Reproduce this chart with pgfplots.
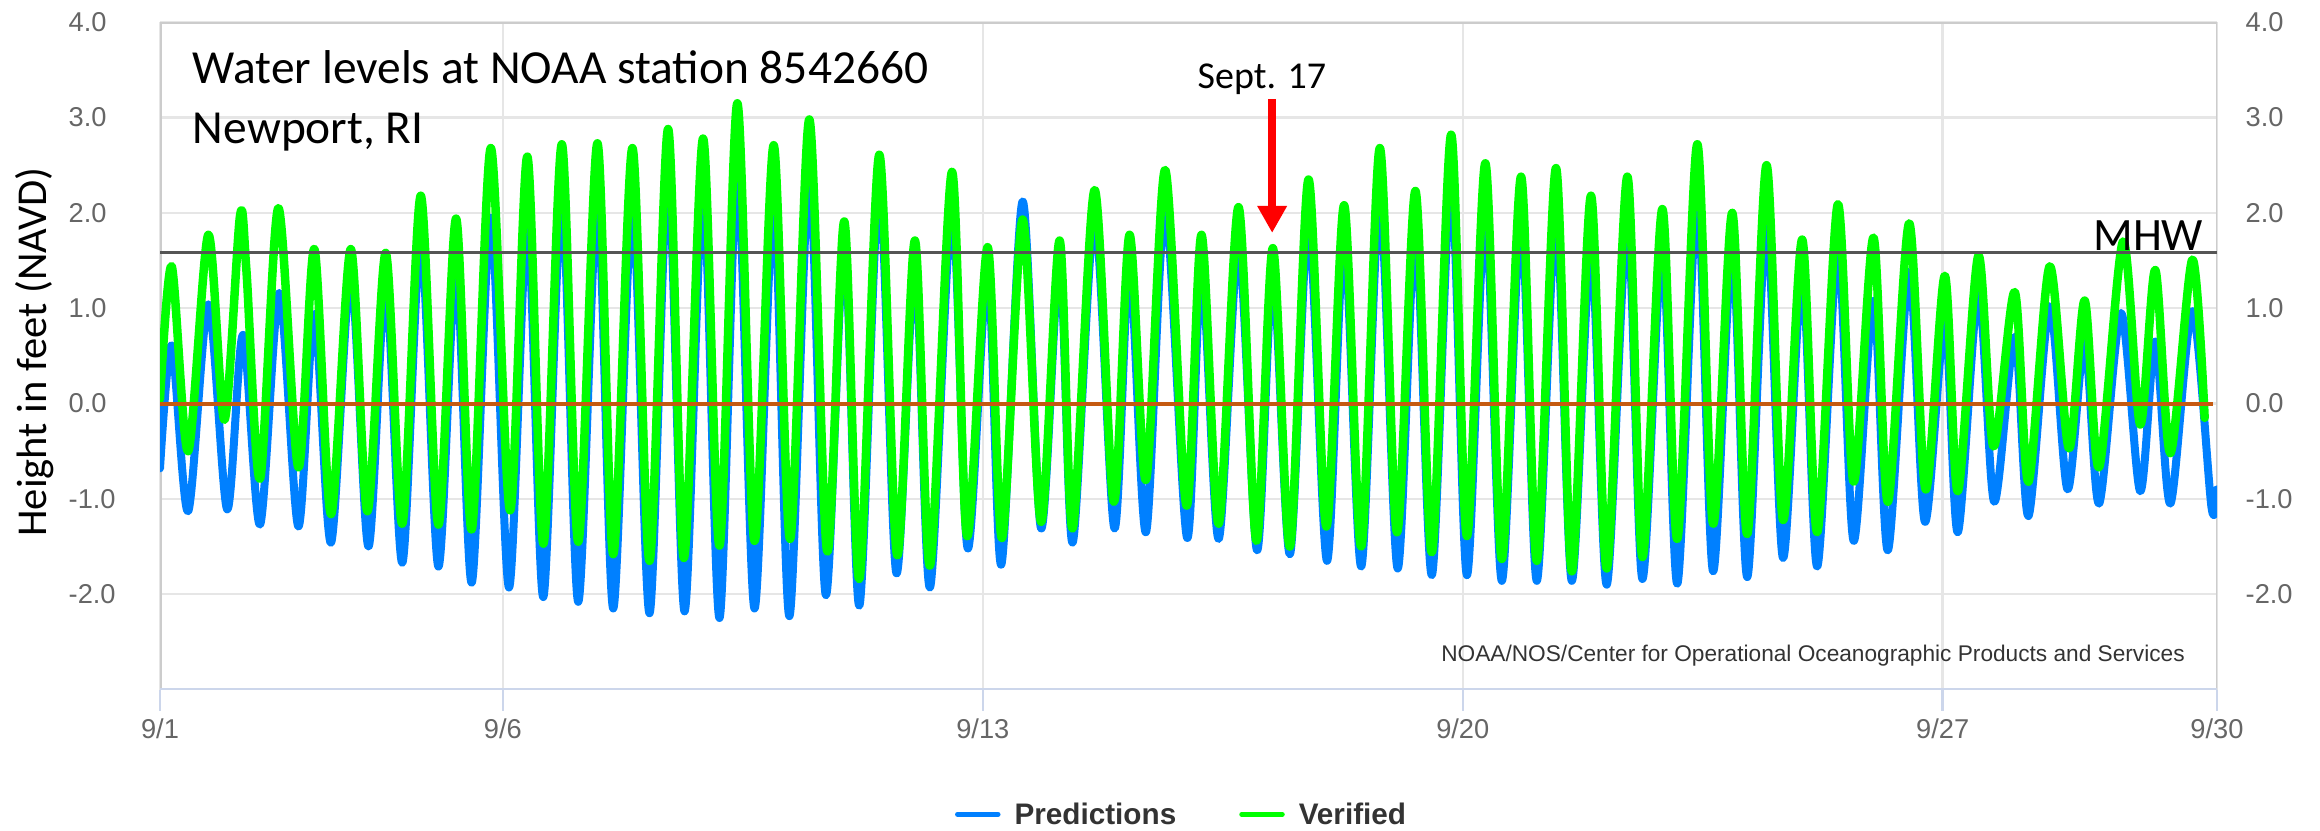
\documentclass[border=0pt]{standalone}
\usepackage{fontspec}
\setmainfont{Carlito}
\newfontfamily\arialf{Liberation Sans}
\usepackage{pgfplots}
\pgfplotsset{compat=1.18}
\usetikzlibrary{arrows.meta}
\definecolor{predblue}{RGB}{0,128,255}
\definecolor{verigreen}{RGB}{0,255,0}
\definecolor{zeroline}{RGB}{197,90,17}
\definecolor{mhwgray}{RGB}{85,85,85}
\definecolor{gridgray}{RGB}{230,230,230}
\definecolor{framegray}{RGB}{204,204,204}
\definecolor{xaxiscol}{RGB}{204,214,235}
\definecolor{ticktext}{RGB}{102,102,102}
\definecolor{darktext}{RGB}{51,51,51}

\pgfplotstableread{
day val
0.00 -0.68
0.17 0.61
0.41 -1.13
0.705 1.04
0.98 -1.11
1.21 0.72
1.459 -1.27
1.74 1.16
2.018 -1.29
2.251 0.94
2.494 -1.46
2.782 1.35
3.04 -1.50
3.292 1.25
3.535 -1.67
3.803 1.72
4.06 -1.71
4.318 1.42
4.547 -1.88
4.824 1.95
5.09 -1.93
5.358 1.88
5.59 -2.03
5.86 2.15
6.10 -2.08
6.38 2.11
6.61 -2.15
6.89 2.08
7.14 -2.20
7.41 2.40
7.65 -2.18
7.92 2.22
8.16 -2.25
8.42 2.45
8.67 -2.15
8.95 2.11
9.18 -2.23
9.47 2.41
9.71 -2.01
9.98 1.70
10.20 -2.12
10.49 2.30
10.74 -1.78
11.01 1.45
11.23 -1.93
11.55 2.05
11.78 -1.52
12.07 1.40
12.27 -1.69
12.58 2.12
12.85 -1.31
13.12 1.50
13.31 -1.46
13.63 1.95
13.92 -1.31
14.14 1.45
14.38 -1.35
14.66 2.05
14.98 -1.41
15.19 1.40
15.44 -1.42
15.73 1.65
16.00 -1.54
16.23 1.35
16.48 -1.58
16.75 1.90
17.02 -1.65
17.27 1.72
17.52 -1.71
17.79 2.15
18.05 -1.73
18.31 1.80
18.55 -1.80
18.83 2.35
19.06 -1.80
19.33 2.00
19.57 -1.86
19.85 1.94
20.08 -1.86
20.36 1.97
20.59 -1.86
20.87 1.65
21.10 -1.90
21.40 1.90
21.62 -1.84
21.91 1.62
22.13 -1.89
22.42 2.15
22.65 -1.76
22.93 1.62
23.15 -1.82
23.43 1.89
23.67 -1.62
23.95 1.35
24.17 -1.71
24.47 1.62
24.70 -1.44
24.99 1.08
25.20 -1.54
25.51 1.38
25.74 -1.24
26.03 0.85
26.22 -1.35
26.52 1.17
26.75 -1.03
27.05 0.70
27.25 -1.18
27.56 1.02
27.82 -0.90
28.07 0.65
28.28 -1.05
28.60 0.95
28.88 -0.92
29.10 0.65
29.32 -1.05
29.64 0.97
29.92 -1.09
30.00 -0.90
}\predtable

\pgfplotstableread{
day val
0.00 0.05
0.17 1.44
0.41 -0.50
0.705 1.77
0.94 -0.17
1.167 1.97
1.26 1.40
1.459 -0.79
1.726 2.05
2.018 -0.67
2.251 1.62
2.494 -1.16
2.782 1.62
3.025 -1.13
3.292 1.58
3.535 -1.26
3.803 2.18
4.06 -1.27
4.318 1.94
4.547 -1.32
4.824 2.68
5.106 -1.12
5.358 2.59
5.592 -1.47
5.86 2.72
6.10 -1.45
6.38 2.73
6.61 -1.58
6.89 2.68
7.14 -1.65
7.41 2.88
7.64 -1.62
7.92 2.78
8.16 -1.49
8.42 3.15
8.67 -1.44
8.95 2.71
9.19 -1.42
9.47 2.98
9.73 -1.55
9.98 1.91
10.20 -1.84
10.49 2.61
10.75 -1.59
11.01 1.71
11.23 -1.70
11.55 2.43
11.77 -1.39
12.07 1.64
12.28 -1.41
12.58 1.93
12.85 -1.24
13.12 1.71
13.31 -1.31
13.63 2.24
13.91 -1.03
14.14 1.77
14.38 -0.80
14.66 2.45
14.97 -1.07
15.19 1.77
15.44 -1.26
15.73 2.06
15.99 -1.44
16.23 1.63
16.48 -1.50
16.75 2.35
17.01 -1.29
17.27 2.08
17.52 -1.50
17.79 2.68
18.04 -1.35
18.31 2.23
18.55 -1.56
18.83 2.82
19.06 -1.39
19.33 2.52
19.57 -1.63
19.85 2.38
20.08 -1.65
20.36 2.47
20.59 -1.76
20.87 2.18
21.10 -1.73
21.40 2.38
21.62 -1.61
21.91 2.04
22.13 -1.42
22.42 2.72
22.65 -1.26
22.93 2.00
23.15 -1.37
23.43 2.50
23.67 -1.22
23.95 1.72
24.17 -1.35
24.47 2.09
24.70 -0.82
24.99 1.74
25.20 -1.03
25.51 1.89
25.75 -0.90
26.03 1.34
26.22 -0.92
26.52 1.55
26.74 -0.45
27.05 1.17
27.25 -0.82
27.56 1.44
27.84 -0.47
28.07 1.08
28.28 -0.67
28.63 1.70
28.88 -0.22
29.10 1.40
29.32 -0.52
29.64 1.51
29.82 -0.15
}\veritable

\begin{document}
\begin{tikzpicture}
\useasboundingbox (0,0) rectangle (232mm,83mm);
\begin{axis}[
  at={(16mm,14.05mm)}, anchor=south west,
  scale only axis, width=205.7mm, height=66.73mm,
  xmin=0, xmax=30, ymin=-3, ymax=4,
  axis line style={draw=none},
  xtick={0,5,12,19,26,30},
  xticklabels={9/1,9/6,9/13,9/20,9/27,9/30},
  ytick={-2,-1,0,1,2,3,4},
  yticklabels={-2.0,-1.0,0.0,1.0,2.0,3.0,4.0},
  xmajorgrids, ymajorgrids,
  grid style={gridgray, line width=0.25mm},
  tick align=outside,
  xtick pos=bottom,
  xtick style={draw=xaxiscol, line width=0.25mm},
  major tick length=2.1mm,
  ytick style={draw=none},
  x tick label style={font=\arialf\fontsize{7.75}{9}\selectfont, text=ticktext, anchor=base, yshift=-2.78mm, inner sep=0pt},
  y tick label style={font=\arialf\fontsize{7.75}{9}\selectfont, text=ticktext, anchor=west, xshift=-7.1mm, inner sep=0pt},
  legend style={at={(axis description cs:0.3865,-0.1906)}, anchor=west, draw=none, fill=none,
    inner sep=0pt, outer sep=0pt, legend columns=2,
    font=\arialf\bfseries\fontsize{8.45}{10}\selectfont, text=darktext,
    nodes={inner sep=0pt, anchor=base west},
    /tikz/every odd column/.append style={column sep=1.4mm},
    /tikz/every even column/.append style={column sep=6.3mm}},
  legend image code/.code={\draw[#1, line width=0.5mm] (0mm,1.05mm) -- (4.05mm,1.05mm);},
]
\draw[framegray, line width=0.3mm] (rel axis cs:0,0) -- (rel axis cs:0,1) -- (rel axis cs:1,1) -- (rel axis cs:1,0);
\draw[xaxiscol, line width=0.3mm] (rel axis cs:0,0) -- (rel axis cs:1,0);
\addplot[predblue, line width=0.8mm, smooth, line join=round, line cap=round] table[x=day, y=val] {\predtable};
\addlegendentry{Predictions}
\addplot[verigreen, line width=0.85mm, smooth, line join=round, line cap=round] table[x=day, y=val] {\veritable};
\addlegendentry{Verified}
\addplot[mhwgray, line width=0.3mm, forget plot] coordinates {(0,1.58) (30,1.58)};
\addplot[zeroline, line width=0.4mm, forget plot] coordinates {(0,0) (29.94,0)};
\node[anchor=base west, font=\fontsize{13.5}{16}\selectfont] at (axis cs:0.30,3.356) {Water levels at NOAA station 8542660};
\node[anchor=base west, font=\fontsize{13.5}{16}\selectfont] at (axis cs:0.30,2.733) {Newport, RI};
\node[anchor=base, font=\fontsize{10.8}{13}\selectfont] at (axis cs:16.07,3.305) {Sept. 17};
\draw[red, line width=0.75mm, -{Triangle[width=2.8mm,length=2.7mm]}] (axis cs:16.22,3.19) -- (axis cs:16.22,1.79);
\node[anchor=base east, font=\fontsize{13.2}{16}\selectfont] at (axis cs:29.98,1.61) {MHW};
\node[anchor=base east, font=\arialf\fontsize{6.45}{8}\selectfont, text=darktext] at (axis cs:29.71,-2.71) {NOAA/NOS/Center for Operational Oceanographic Products and Services};
\end{axis}
\begin{axis}[
  at={(16mm,14.05mm)}, anchor=south west,
  scale only axis, width=205.7mm, height=66.73mm,
  xmin=0, xmax=30, ymin=-3, ymax=4,
  hide x axis, axis y line*=right,
  axis line style={draw=none},
  ytick={-2,-1,0,1,2,3,4},
  yticklabels={-2.0,-1.0,0.0,1.0,2.0,3.0,4.0},
  ytick style={draw=none},
  y tick label style={font=\arialf\fontsize{7.75}{9}\selectfont, text=ticktext, anchor=west, xshift=2.8mm, inner sep=0pt},
]
\addplot[draw=none, forget plot] coordinates {(0,0) (30,0)};
\end{axis}
\node[rotate=90, font=\fontsize{12.1}{14}\selectfont] at (3.5mm,47.8mm) {Height in feet (NAVD)};
\end{tikzpicture}
\end{document}
